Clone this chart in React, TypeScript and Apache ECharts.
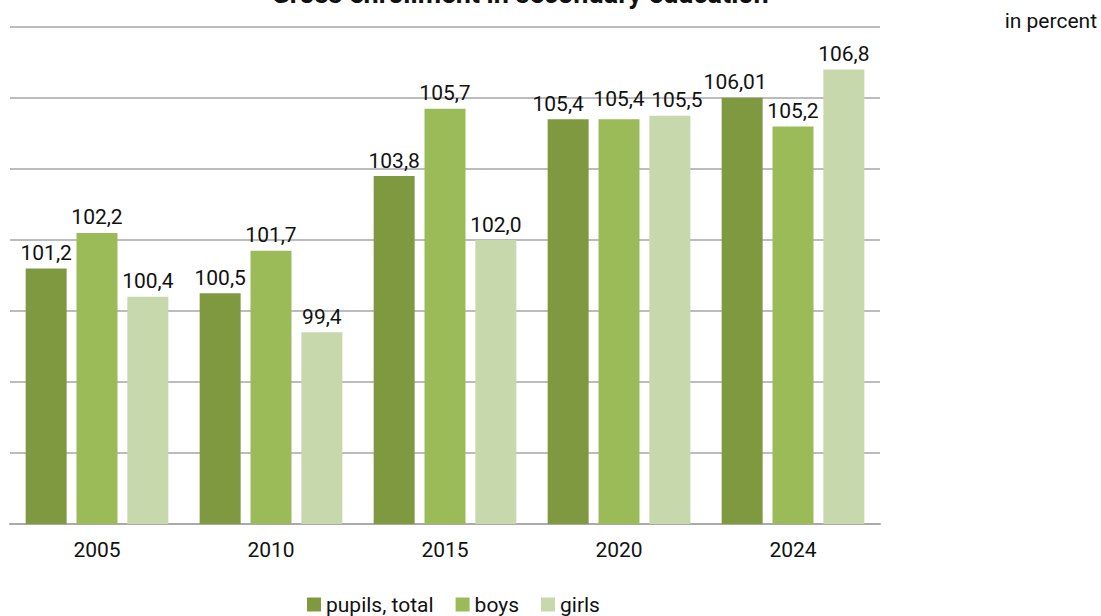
import React, { useEffect, useRef } from "react";
import * as echarts from "echarts";

const categories = ["2005", "2010", "2015", "2020", "2024"];
const pupilsTotal = [101.2, 100.5, 103.8, 105.4, 106.01];
const boys = [102.2, 101.7, 105.7, 105.4, 105.2];
const girls = [100.4, 99.4, 102.0, 105.5, 106.8];
const seriesNames = ["pupils, total", "boys", "girls"];
const colors = ["#7F9941", "#9BBB59", "#C8D8AD"];

const fmt = (v: number) => {
  const oneDec = Math.abs(Math.round(v * 10) - v * 10) < 1e-6;
  return (oneDec ? v.toFixed(1) : v.toFixed(2)).replace(".", ",");
};

// label nudges to avoid overlap (series index -> category index -> offset)
const labelNudges: Record<number, Record<number, [number, number]>> = {
  0: { 3: [-10, 0], 4: [-7, 0] },
  1: { 3: [0, -5] },
  2: { 3: [7, 0] },
};

export default function App() {
  const ref = useRef<HTMLDivElement>(null);
  useEffect(() => {
    if (!ref.current) return;
    const chart = echarts.init(ref.current, null, { renderer: "svg" });
    const font = "Roboto";
    const mk = (si: number, data: number[]) => ({
      name: seriesNames[si],
      type: "bar",
      data: data.map((v, i) =>
        labelNudges[si][i] ? { value: v, label: { offset: labelNudges[si][i] } } : v
      ),
      itemStyle: { color: colors[si] },
      barGap: "24%",
      barCategoryGap: "18%",
      label: {
        show: true,
        position: "top",
        distance: 5,
        color: "#111",
        fontFamily: font,
        fontSize: 21,
        formatter: (p: any) => fmt(p.value),
      },
    });
    chart.setOption({
      animation: false,
      textStyle: { fontFamily: font },
      grid: { left: 10, right: 221, top: 27, bottom: 92, containLabel: false },
      graphic: [
        {
          type: "text",
          x: 520,
          y: -6,
          style: {
            text: "Gross enrollment in secondary education",
            font: "bold 27px Roboto",
            fill: "#111",
            align: "center",
            verticalAlign: "middle",
          },
        },
        {
          type: "text",
          x: 1097,
          y: 21,
          style: {
            text: "in percent",
            font: "21px Roboto",
            fill: "#111",
            align: "right",
            verticalAlign: "middle",
          },
        },
      ],
      legend: {
        bottom: -4,
        left: 302,
        itemWidth: 14,
        itemHeight: 14,
        itemGap: 22,
        icon: "rect",
        textStyle: { fontFamily: font, fontSize: 21, color: "#111" },
        data: seriesNames,
      },
      xAxis: {
        type: "category",
        data: categories,
        axisTick: { show: false },
        axisLine: { lineStyle: { color: "#AAAAAA", width: 2 } },
        axisLabel: { fontFamily: font, fontSize: 21, color: "#111", margin: 15 },
      },
      yAxis: {
        type: "value",
        min: 94,
        max: 108,
        interval: 2,
        axisLabel: { show: false },
        axisLine: { show: false },
        axisTick: { show: false },
        splitLine: { lineStyle: { color: "#A6A6A6", width: 1.5 } },
      },
      series: [mk(0, pupilsTotal), mk(1, boys), mk(2, girls)],
    });
    return () => chart.dispose();
  }, []);
  return <div ref={ref} style={{ width: 1101, height: 616, position: "absolute", left: 0, top: 0 }} />;
}
